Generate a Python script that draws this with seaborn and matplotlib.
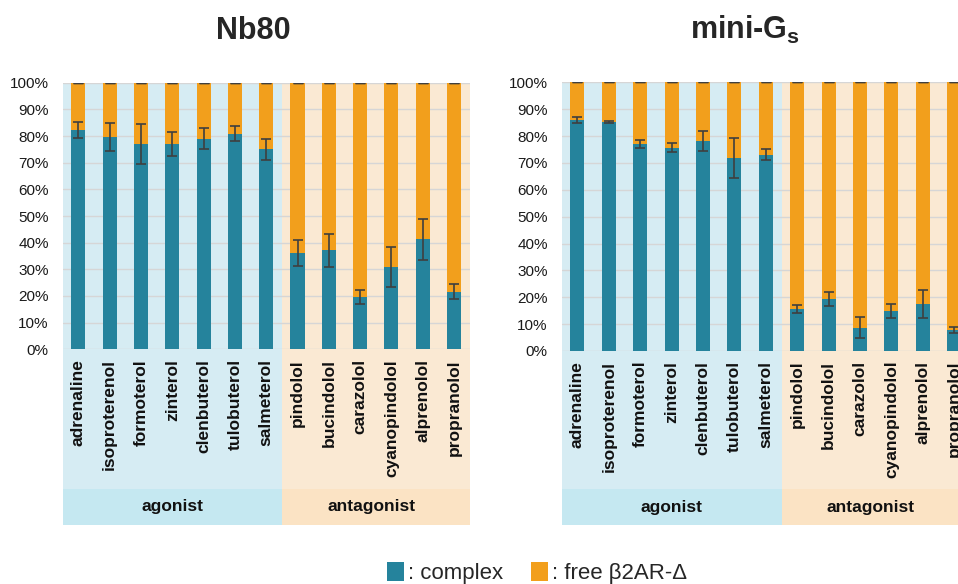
import numpy as np
import pandas as pd
import matplotlib
matplotlib.use("Agg")
import matplotlib.pyplot as plt
import seaborn as sns
from matplotlib.patches import Rectangle, Patch
from matplotlib.transforms import blended_transform_factory
from matplotlib.ticker import FuncFormatter, MultipleLocator

# ---- data -------------------------------------------------------------
drugs = ["adrenaline", "isoproterenol", "formoterol", "zinterol", "clenbuterol",
         "tulobuterol", "salmeterol", "pindolol", "bucindolol", "carazolol",
         "cyanopindolol", "alprenolol", "propranolol"]
groups = ["agonist", "antagonist"]
n_agonist = 7

nb80_complex = [82.1, 79.7, 77.0, 77.0, 79.0, 80.9, 75.0,
                36.1, 37.1, 19.6, 30.9, 41.3, 21.6]
nb80_err = [3.0, 5.3, 7.5, 4.5, 4.0, 2.9, 4.0,
            5.0, 6.3, 2.5, 7.4, 7.7, 2.8]

minigs_complex = [85.9, 85.3, 77.0, 75.7, 78.2, 71.8, 73.1,
                  15.6, 19.2, 8.7, 14.9, 17.5, 7.8]
minigs_err = [1.0, 0.4, 1.4, 1.8, 3.7, 7.5, 2.2,
              1.5, 2.6, 4.0, 2.7, 5.3, 1.2]

legend_labels = [": complex", ": free \u03b22AR-\u0394"]

# ---- style ------------------------------------------------------------
TEAL = "#25839c"
ORANGE = "#f29f1c"
AGO_BG = "#d6ecf3"
AGO_BAND = "#c5e8f1"
ANT_BG = "#fae9d3"
ANT_BAND = "#fbe3c4"
GRID = "#d6d6d6"
ERR = "#3f3f3f"

sns.set_style("white")
plt.rcParams["font.family"] = ["Liberation Sans", "DejaVu Sans"]
plt.rcParams["mathtext.fontset"] = "custom"
plt.rcParams["mathtext.bf"] = "Liberation Sans:bold"
plt.rcParams["mathtext.rm"] = "Liberation Sans"

W, H = 958, 584
fig = plt.figure(figsize=(W / 100, H / 100), dpi=100)


def px_axes(left, top, right, bottom):
    return fig.add_axes([left / W, 1 - bottom / H, (right - left) / W, (bottom - top) / H])


def draw_panel(ax, complex_vals, err_vals, band_top, band_bottom):
    df = pd.DataFrame({"drug": drugs, "complex": complex_vals})
    df["free"] = 100 - df["complex"]
    df["total"] = df["complex"] + df["free"]

    ax.set_facecolor("none")
    ax.axvspan(-0.5, n_agonist - 0.5, color=AGO_BG, zorder=0, lw=0)
    ax.axvspan(n_agonist - 0.5, len(drugs) - 0.5, color=ANT_BG, zorder=0, lw=0)

    sns.barplot(data=df, x="drug", y="total", color=ORANGE, saturation=1,
                width=0.45, ax=ax, zorder=2, linewidth=0)
    sns.barplot(data=df, x="drug", y="complex", color=TEAL, saturation=1,
                width=0.45, ax=ax, zorder=3, linewidth=0)

    # bar centres taken from the complex-bar container
    xs = [p.get_x() + p.get_width() / 2 for p in ax.containers[-1].patches]
    ax.errorbar(xs, df["complex"], yerr=err_vals, fmt="none", ecolor=ERR,
                elinewidth=1.2, capsize=3.3, capthick=1.2, zorder=4)
    ax.errorbar(xs, df["total"], yerr=0, fmt="none", ecolor=ERR,
                elinewidth=1.0, capsize=3.3, capthick=1.0, zorder=4)

    ax.set_xlim(-0.5, len(drugs) - 0.5)
    ax.set_ylim(0, 100)
    ax.yaxis.set_major_locator(MultipleLocator(10))
    ax.yaxis.set_major_formatter(FuncFormatter(lambda v, _: f"{v:.0f}%"))
    ax.set_axisbelow(True)
    ax.yaxis.grid(True, color=GRID, lw=1.0)
    ax.xaxis.grid(False)
    for s in ax.spines.values():
        s.set_visible(False)
    ax.set_xlabel("")
    ax.set_ylabel("")
    ax.tick_params(axis="y", length=0, pad=10, labelsize=11, labelcolor="#1a1a1a")
    ax.tick_params(axis="x", length=0, pad=7, labelsize=12.5)
    for lab in ax.get_xticklabels():
        lab.set_rotation(90)
        lab.set_fontweight("bold")
        lab.set_color("#111111")

    # category area under the axis and group bands
    trans = blended_transform_factory(ax.transData, ax.transAxes)
    spans = [(-0.5, n_agonist, AGO_BG, AGO_BAND, 3.0),
             (n_agonist - 0.5, len(drugs) - n_agonist, ANT_BG, ANT_BAND, 9.35)]
    for (x0, wdt, bg, band, cx), name in zip(spans, groups):
        ax.add_patch(Rectangle((x0, band_top), wdt, -band_top, transform=trans,
                               facecolor=bg, lw=0, clip_on=False, zorder=0))
        ax.add_patch(Rectangle((x0, band_bottom), wdt, band_top - band_bottom,
                               transform=trans, facecolor=band, lw=0,
                               clip_on=False, zorder=0))
        ax.text(cx, (band_top + band_bottom) / 2, name, transform=trans,
                ha="center", va="center", fontsize=12.5, fontweight="bold",
                color="#111111")


ax1 = px_axes(62.7, 82.7, 469.7, 349.3)
draw_panel(ax1, nb80_complex, nb80_err,
           -(489 - 349.3) / 266.6, -(525 - 349.3) / 266.6)

ax2 = px_axes(561.7, 82.3, 561.7 + 13 * 31.4, 351.0)
draw_panel(ax2, minigs_complex, minigs_err,
           -(489.3 - 351.0) / 268.7, -(525 - 351.0) / 268.7)

fig.text(253 / W, 1 - 39 / H, "Nb80", ha="center", va="baseline",
         fontsize=22, fontweight="bold")
fig.text(745 / W, 1 - 39 / H, r"mini-G$_\mathbf{s}$", ha="center", va="baseline",
         fontsize=22, fontweight="bold")

fig.legend(handles=[Patch(facecolor=TEAL, lw=0), Patch(facecolor=ORANGE, lw=0)],
           labels=legend_labels, loc="center", bbox_to_anchor=(537 / W, 1 - 573 / H),
           ncol=2, frameon=False, fontsize=16, handlelength=0.75, handleheight=0.9,
           handletextpad=0.2, columnspacing=1.25, borderpad=0, borderaxespad=0)

fig.savefig("out.png", dpi=100)
